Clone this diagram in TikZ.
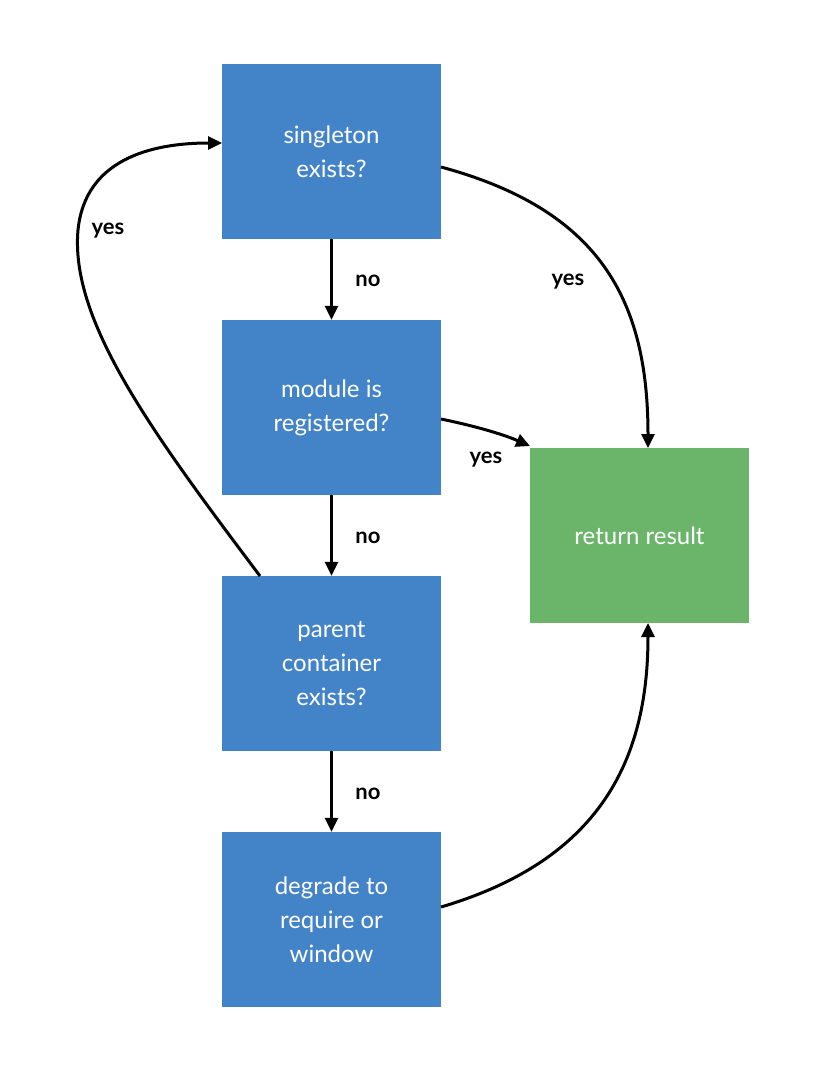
\documentclass[tikz,border=0pt]{standalone}
\usepackage{fontspec}
\setmainfont{Lato}
\usetikzlibrary{arrows.meta}
\definecolor{bl}{HTML}{4383C8}
\definecolor{gr}{HTML}{6AB56A}
\begin{document}
\begin{tikzpicture}[x=1pt,y=-1pt,
 box/.style={fill=bl,minimum width=219pt,minimum height=175pt,text=white,align=center,font=\fontsize{24}{34}\selectfont,inner sep=0},
 ar/.style={line width=3pt,-{Triangle[length=14pt,width=13pt]}},
 lb/.style={font=\bfseries\fontsize{22}{26}\selectfont}]
\useasboundingbox (0,0) rectangle (824,1076);
\node[box] (s1) at (331.5,151.5) {singleton\\exists?};
\node[box] (s2) at (331.5,407.5) {module is\\registered?};
\node[box] (s3) at (331.5,663.5) {parent\\container\\exists?};
\node[box] (s4) at (331.5,919.5) {degrade to\\require or\\window};
\node[box,fill=gr] (g) at (639.5,535.5) {return result};
\draw[ar] (s1.south) -- (s2.north);
\draw[ar] (s2.south) -- (s3.north);
\draw[ar] (s3.south) -- (s4.north);
\node[lb] (n1) at (368,281) {no};
\node[lb] (n2) at (368,538) {no};
\node[lb] (n3) at (368,794) {no};
\coordinate (a1) at (441,167);
\coordinate (g1) at (648,448);
\draw[ar] (a1) .. controls (600,210) and (648,300) .. (g1);
\node[lb] (y1) at (568,282) {yes};
\coordinate (a2) at (441,419);
\coordinate (g2) at (530,446);
\draw[ar] (a2) .. controls (470,425) and (500,433) .. (g2);
\node[lb] (y2) at (486,460) {yes};
\coordinate (a3) at (260,576);
\coordinate (s1l) at (222,143);
\draw[ar] (a3) .. controls (150,430) and (70,320) .. (78,230) .. controls (85,160) and (150,143) .. (s1l);
\node[lb] (y3) at (108,231) {yes};
\coordinate (a4) at (441,907);
\coordinate (g4) at (648,623);
\draw[ar] (a4) .. controls (600,860) and (648,760) .. (g4);
\end{tikzpicture}
\end{document}
